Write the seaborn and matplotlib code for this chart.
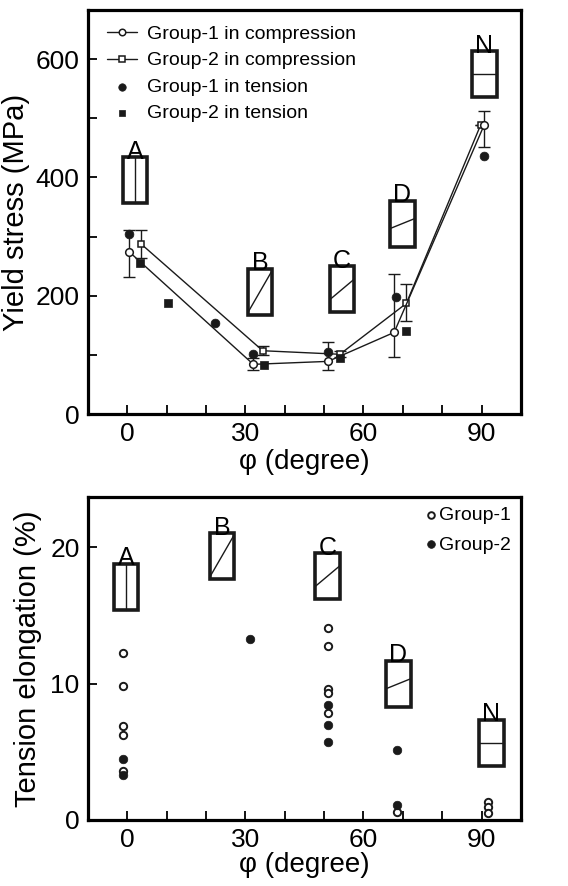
import numpy as np
import matplotlib
matplotlib.use('Agg')
import matplotlib.pyplot as plt
import matplotlib.patches as mpatches
import matplotlib.transforms as mtransforms
from matplotlib.lines import Line2D
from matplotlib.ticker import MultipleLocator
import seaborn as sns

# yield stress, compression (line + error bars)
comp1_x = [0.5, 32, 51, 67.8, 90.7]
comp1_y = [274, 84, 89, 138, 489]
comp1_lo = [43, 10, 14, 42, 37]
comp1_hi = [37, 10, 32, 99, 23]

comp2_x = [3.4, 34.4, 54, 70.9, 89.8]
comp2_y = [288, 107, 101, 187, 489]
comp2_lo = [24, 8, 5, 30, 0]
comp2_hi = [23, 8, 5, 32, 0]

# yield stress, tension
tens1_x = [0.5, 22.2, 31.9, 50.9, 68.2, 90.7]
tens1_y = [304, 154, 102, 105, 198, 436]
tens2_x = [3.2, 10.4, 34.7, 54, 70.9]
tens2_y = [256, 188, 83, 94, 141]

# tension elongation
elong1_x = [-1, -1, -1, -1, -1, 50.9, 50.9, 50.9, 50.9, 50.9, 68.6, 91.6, 91.6, 91.6]
elong1_y = [12.25, 9.85, 6.9, 6.2, 3.6, 14.1, 12.8, 9.6, 9.35, 7.85, 0.6, 1.35, 0.95, 0.5]
elong2_x = [-1, -1, 31.2, 50.9, 50.9, 50.9, 68.6, 68.6]
elong2_y = [4.5, 3.3, 13.3, 8.45, 7.0, 5.7, 5.1, 1.1]

# orientation sketches: letter, angle from vertical
box_letters = ['A', 'B', 'C', 'D', 'N']
box_angles = [0, 30, 50, 68, 90]

sns.set_theme(style='ticks', rc={'axes.edgecolor': 'black', 'text.color': 'black',
                                 'axes.labelcolor': 'black', 'xtick.color': 'black',
                                 'ytick.color': 'black'})
plt.rcParams['font.family'] = ['Liberation Sans', 'DejaVu Sans']

fig = plt.figure(figsize=(5.68, 8.86), dpi=100)
ax1 = fig.add_axes([0.155, 0.5327, 0.762, 0.456])
ax2 = fig.add_axes([0.155, 0.0745, 0.762, 0.3646])


def orient_box(ax, x, y, letter, angle, w=0.245, h=0.46):
    tr = fig.dpi_scale_trans + mtransforms.ScaledTranslation(x, y, ax.transData)
    ax.add_patch(mpatches.Rectangle((-w / 2, -h / 2), w, h, transform=tr, fill=False,
                                    lw=2.6, ec='k', clip_on=False))
    a = np.radians(angle)
    s, c = np.sin(a), np.cos(a)
    t = min(w / 2 / abs(s) if abs(s) > 1e-9 else np.inf,
            h / 2 / abs(c) if abs(c) > 1e-9 else np.inf)
    ax.add_line(Line2D([-t * s, t * s], [-t * c, t * c], transform=tr, color='k',
                       lw=1, clip_on=False))
    ax.text(0, h / 2 - 0.015, letter, transform=tr, ha='center', va='baseline',
            fontsize=18, clip_on=False)


def style_axes(ax):
    for sp in ax.spines.values():
        sp.set_visible(True)
        sp.set_linewidth(2.3)
    ax.tick_params(which='both', direction='in', length=6.5, width=1.3,
                   labelsize=19, pad=6, top=False, right=False)
    ax.set_xlim(-10, 100)
    ax.xaxis.set_major_locator(MultipleLocator(30))
    ax.xaxis.set_minor_locator(MultipleLocator(10))


# --- top: yield stress ---
ax1.errorbar(comp1_x, comp1_y, yerr=[comp1_lo, comp1_hi], fmt='none', ecolor='k',
             elinewidth=1, capsize=4, capthick=1)
ax1.errorbar(comp2_x, comp2_y, yerr=[comp2_lo, comp2_hi], fmt='none', ecolor='k',
             elinewidth=1, capsize=4, capthick=1)
sns.lineplot(x=comp2_x, y=comp2_y, ax=ax1, color='k', lw=1, marker='s', markersize=5,
             markerfacecolor='white', markeredgecolor='k', markeredgewidth=1.1,
             label='Group-2 in compression')
sns.lineplot(x=comp1_x, y=comp1_y, ax=ax1, color='k', lw=1, marker='o', markersize=5.5,
             markerfacecolor='white', markeredgecolor='k', markeredgewidth=1.1,
             label='Group-1 in compression')
sns.scatterplot(x=tens1_x, y=tens1_y, ax=ax1, color='k', marker='o', s=40,
                edgecolor='k', linewidth=0.5, label='Group-1 in tension', zorder=3)
sns.scatterplot(x=tens2_x, y=tens2_y, ax=ax1, color='k', marker='s', s=34,
                edgecolor='k', linewidth=0.5, label='Group-2 in tension', zorder=3)

style_axes(ax1)
ax1.set_ylim(0, 683)
ax1.yaxis.set_major_locator(MultipleLocator(200))
ax1.yaxis.set_minor_locator(MultipleLocator(100))
ax1.set_xlabel('φ (degree)', fontsize=20, labelpad=2)
ax1.set_ylabel('Yield stress (MPa)', fontsize=21, labelpad=4)

order = ['Group-1 in compression', 'Group-2 in compression',
         'Group-1 in tension', 'Group-2 in tension']
h, l = ax1.get_legend_handles_labels()
hmap = dict(zip(l, h))
ax1.legend([hmap[k] for k in order], order, loc='upper left',
           bbox_to_anchor=(0.044, 0.962), borderaxespad=0, borderpad=0,
           frameon=False, fontsize=14, handlelength=1.55, handletextpad=0.5,
           labelspacing=0.45, markerscale=0.85)

top_pos = [(1.9, 395), (33.7, 207), (54.6, 211), (69.9, 322), (90.7, 574)]
for (bx, by), let, ang in zip(top_pos, box_letters, box_angles):
    orient_box(ax1, bx, by, let, ang)

# --- bottom: tension elongation ---
sns.scatterplot(x=elong1_x, y=elong1_y, ax=ax2, marker='o', s=28, facecolor='white',
                edgecolor='k', linewidth=1.4, label='Group-1', zorder=3)
sns.scatterplot(x=elong2_x, y=elong2_y, ax=ax2, marker='o', s=38, color='k',
                edgecolor='k', linewidth=0.5, label='Group-2', zorder=3)

style_axes(ax2)
ax2.set_ylim(0, 23.7)
ax2.yaxis.set_major_locator(MultipleLocator(10))
ax2.set_xlabel('φ (degree)', fontsize=20, labelpad=0)
ax2.set_ylabel('Tension elongation (%)', fontsize=21, labelpad=6)
ax2.legend(loc='upper right', bbox_to_anchor=(0.977, 0.97), borderaxespad=0,
           borderpad=0, frameon=False, fontsize=14, handlelength=0.5,
           handletextpad=0.15, labelspacing=0.6, markerscale=0.9)

bot_pos = [(-0.4, 17.1), (24, 19.35), (50.9, 17.9), (68.9, 10.0), (92.5, 5.65)]
for (bx, by), let, ang in zip(bot_pos, box_letters, box_angles):
    orient_box(ax2, bx, by, let, ang)

fig.savefig('out.png', dpi=100)
